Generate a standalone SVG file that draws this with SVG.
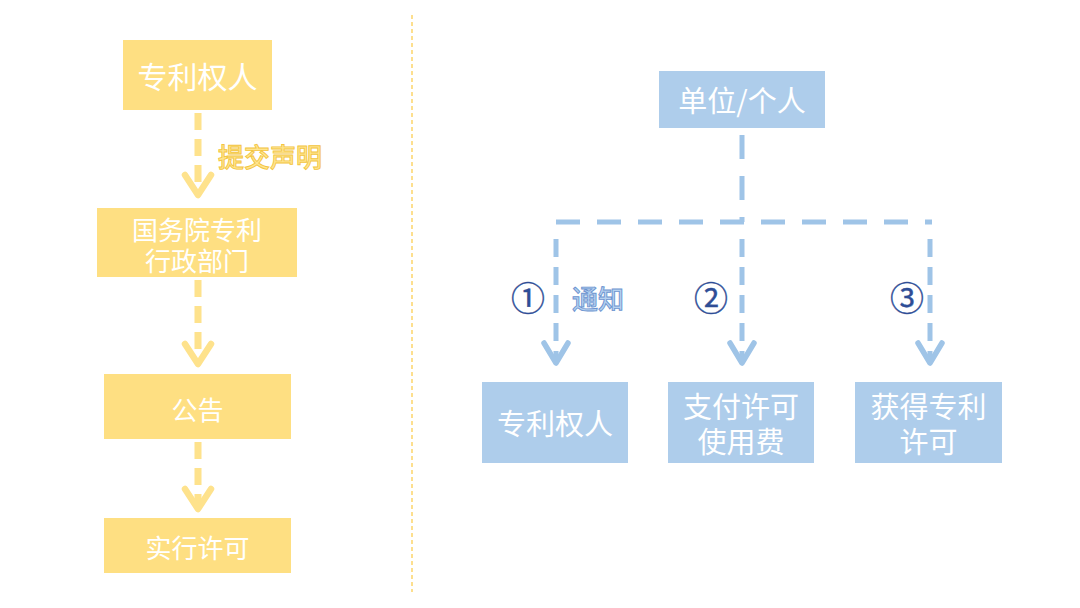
<svg xmlns="http://www.w3.org/2000/svg" width="1080" height="608" viewBox="0 0 1080 608">
  <defs>
    <style>
      .ybox { fill: #FEDF82; }
      .bbox { fill: #AECDEB; }
      .t { font-family: "Noto Sans CJK SC", "Noto Sans", sans-serif; fill: #FFFFFF; text-anchor: middle; dominant-baseline: central; }
      .yline { stroke: #FEE28C; stroke-width: 7; fill: none; stroke-dasharray: 17 9; }
      .bline { stroke: #9FC4E7; stroke-width: 5; fill: none; }
      .bv { stroke-dasharray: 18 10; }
      .bh { stroke-dasharray: 24 17; }
      .sep { stroke: #FDD56A; stroke-width: 1.5; stroke-dasharray: 4 3; fill: none; }
      .ylabel { font-family: "Noto Sans CJK SC", sans-serif; font-size: 26px; font-weight: 500; fill: #FFE590; stroke: #F3C540; stroke-width: 0.9; dominant-baseline: central; }
      .blabel { font-family: "Noto Sans CJK SC", sans-serif; font-size: 26px; font-weight: 500; fill: #B6D1EF; stroke: #6C94D0; stroke-width: 0.9; dominant-baseline: central; }
      .num { font-family: "Noto Sans CJK SC", "DejaVu Sans", sans-serif; font-size: 34px; fill: #2E4D96; stroke: #2E4D96; stroke-width: 0.4; text-anchor: middle; dominant-baseline: central; }
    </style>
    <marker id="ya" markerUnits="userSpaceOnUse" markerWidth="40" markerHeight="40" viewBox="-26 -20 32 40" refX="0" refY="0" orient="auto" overflow="visible">
      <path d="M-20,-13 L0,0 L-20,13" fill="none" stroke="#FEE28C" stroke-width="6.5" stroke-linecap="round" stroke-linejoin="round"/>
    </marker>
    <marker id="ba" markerUnits="userSpaceOnUse" markerWidth="40" markerHeight="40" viewBox="-26 -20 32 40" refX="0" refY="0" orient="auto" overflow="visible">
      <path d="M-20,-12 L0,0 L-20,12" fill="none" stroke="#9FC4E7" stroke-width="5.5" stroke-linecap="round" stroke-linejoin="round"/>
    </marker>
  </defs>

  <rect width="1080" height="608" fill="#FFFFFF"/>

  <g id="connectors">
    <line class="sep" x1="412" y1="15" x2="412" y2="592"/>
    <path class="yline" d="M198,113 L198,195" marker-end="url(#ya)"/>
    <path class="yline" d="M198,280 L198,364" marker-end="url(#ya)"/>
    <path class="yline" d="M198,442 L198,509" marker-end="url(#ya)"/>
    <path class="bline bh" d="M742,135 L742,222"/>
    <path class="bline bh" d="M556,222 L932,222"/>
    <path class="bline bv" d="M556,239 L556,363" marker-end="url(#ba)"/>
    <path class="bline bv" d="M742,239 L742,363" marker-end="url(#ba)"/>
    <path class="bline bv" d="M930,239 L930,363" marker-end="url(#ba)"/>
    <text class="ylabel" x="218" y="155">提交声明</text>
    <text class="blabel" x="572" y="297">通知</text>
    <text class="num" x="528" y="296">①</text>
    <text class="num" x="711" y="296">②</text>
    <text class="num" x="907" y="296">③</text>
  </g>

  <g id="n1">
    <rect class="ybox" x="123" y="40" width="149" height="70"/>
    <text class="t" x="197.5" y="75" font-size="30">专利权人</text>
  </g>
  <g id="n2">
    <rect class="ybox" x="97" y="208" width="200" height="69"/>
    <text class="t" x="197" font-size="26"><tspan x="197" y="228">国务院专利</tspan><tspan x="197" y="259">行政部门</tspan></text>
  </g>
  <g id="n3">
    <rect class="ybox" x="104" y="374" width="187" height="65"/>
    <text class="t" x="197.5" y="408" font-size="26">公告</text>
  </g>
  <g id="n4">
    <rect class="ybox" x="104" y="518" width="187" height="55"/>
    <text class="t" x="197.5" y="546" font-size="26">实行许可</text>
  </g>

  <g id="n5">
    <rect class="bbox" x="659" y="71" width="166" height="57"/>
    <text class="t" x="742" y="99" font-size="29">单位/个人</text>
  </g>
  <g id="n6">
    <rect class="bbox" x="482" y="382" width="146" height="81"/>
    <text class="t" x="555" y="422" font-size="29">专利权人</text>
  </g>
  <g id="n7">
    <rect class="bbox" x="668" y="382" width="146" height="81"/>
    <text class="t" x="741" font-size="29"><tspan x="741" y="405">支付许可</tspan><tspan x="741" y="440">使用费</tspan></text>
  </g>
  <g id="n8">
    <rect class="bbox" x="855" y="382" width="147" height="81"/>
    <text class="t" x="928.5" font-size="29"><tspan x="928.5" y="405">获得专利</tspan><tspan x="928.5" y="440">许可</tspan></text>
  </g>
</svg>
